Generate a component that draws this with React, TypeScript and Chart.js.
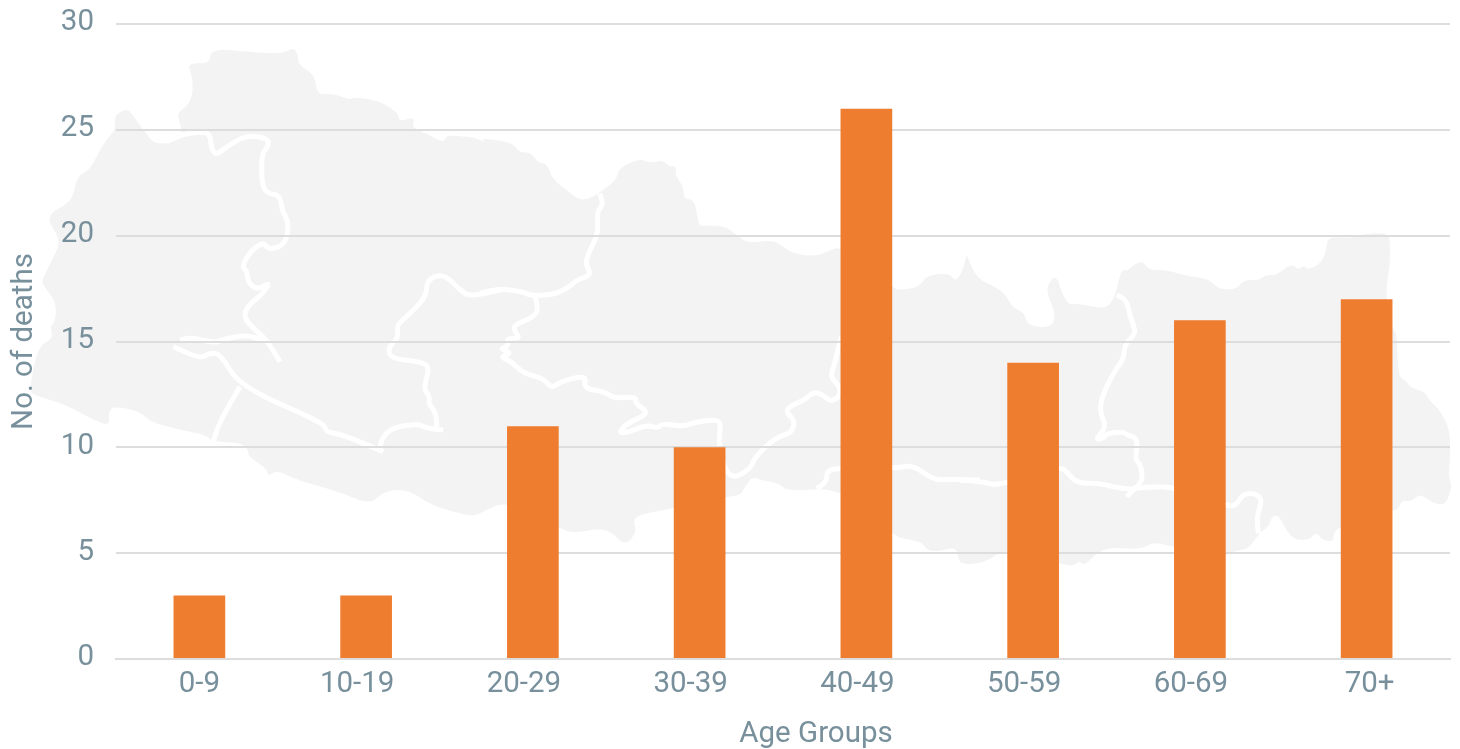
import React, { useEffect, useRef } from "react";
import { Chart, registerables } from "chart.js";

Chart.register(...registerables);

const categories = ["0-9", "10-19", "20-29", "30-39", "40-49", "50-59", "60-69", "70+"];
const deaths = [3, 3, 11, 10, 26, 14, 16, 17];
const yTicks = [0, 5, 10, 15, 20, 25, 30];
const xAxisTitle = "Age Groups";
const yAxisTitle = "No. of deaths";
const xLabelShift = [0, -9, -9, -9, -9, -9, -9, 3];

type P = [number, number];
// Decorative backdrop outline, traced in 3x crop units.
const at = (ox: number, oy: number, pts: number[]): P[] => {
  const out: P[] = [];
  for (let i = 0; i < pts.length; i += 2) out.push([ox + pts[i] / 3, oy + pts[i + 1] / 3]);
  return out;
};

const outline: P[] = [
  ...at(0, 0, [340,350, 378,325, 395,340, 415,370, 440,402, 460,428, 490,432, 530,420, 543,405, 545,385, 530,340, 555,325, 578,290, 578,230, 560,190, 630,190, 630,160, 655,148, 700,152, 750,155, 800,160, 850,160, 880,142, 895,165, 895,195, 945,225, 950,285, 1000,280, 1050,300, 1065,290, 1145,305, 1195,340, 1197,365, 1245,350, 1235,385, 1280,400, 1330,430, 1340,405, 1380,410, 1420,410, 1460,430]),
  ...at(480, 130, [0,25, 50,30, 100,40, 120,70, 150,65, 175,100, 200,100, 220,150, 260,180, 290,205, 320,210, 355,190, 410,150, 415,115, 480,85, 510,100, 550,90, 565,110, 590,108, 585,135, 610,170, 612,208, 645,208, 655,290, 680,285, 740,290, 780,325, 810,340, 885,328, 930,370, 1010,380, 1050,360, 1085,350, 1237,475, 1270,480, 1320,470, 1340,435, 1410,430, 1425,455, 1445,430, 1460,375]),
  ...at(960, 200, [20,165, 50,235, 115,265, 145,295, 155,320, 195,340, 200,375, 270,385, 290,345, 255,270, 280,230, 295,240, 300,265, 325,315, 350,310, 400,320, 440,325, 465,290, 485,205, 500,215, 525,190, 550,185, 565,210, 620,210, 685,230, 745,235, 775,268, 830,268, 850,240, 900,240, 915,225, 950,225, 995,190, 1015,210, 1035,195, 1040,210, 1085,190, 1100,145, 1100,125, 1115,110, 1180,115, 1220,100, 1285,100, 1290,125, 1290,200, 1275,280, 1300,395, 1310,395, 1315,530, 1335,540, 1355,565, 1395,575, 1410,605, 1425,615, 1445,640, 1470,690, 1470,780, 1465,830, 1475,850, 1470,880, 1455,915, 1420,910, 1380,880, 1355,905, 1325,900, 1315,930, 1295,930, 1275,940, 1140,980, 1120,1000, 1120,1025, 1085,1020, 1070,995, 1050,1020, 1000,1020, 970,975, 955,945, 935,950, 930,975, 905,995, 890,1010, 870,1040, 850,1050, 830,1050, 800,1070, 640,1040, 580,1025, 540,1050, 430,1040, 370,1100, 360,1080, 340,1100, 300,1090, 130,1050, 80,1085, 20,1095, 0,1085]),
  ...at(480, 130, [1450,1305, 1435,1290, 1430,1250, 1370,1265, 1340,1260, 1325,1235, 1260,1225, 1237,1210, 1083,1072, 920,1085, 900,1060, 840,1050, 815,1040, 790,1080, 780,1095, 745,1100, 580,1135, 470,1155, 460,1180, 470,1200, 450,1235, 425,1240, 400,1210, 360,1195, 280,1210, 240,1195, 80,1110, 0,1150]),
  ...at(0, 0, [1410,1550, 1290,1515, 1230,1470, 1155,1470, 1110,1515, 1020,1476, 890,1440, 830,1410, 805,1430, 800,1405, 745,1370, 745,1350, 725,1328, 635,1325, 620,1305, 540,1290, 450,1265, 420,1235, 345,1218, 325,1235, 330,1280, 260,1250, 200,1215, 100,1185, 90,1170, 100,1100, 120,1035, 160,1015, 150,975, 165,970, 170,905, 122,848, 135,825, 150,790, 185,725, 145,665, 155,635, 190,620, 220,590, 230,530, 270,510, 310,430, 350,385]),
];

const borders: P[][] = [
  at(0, 0, [500,425, 540,405, 600,395, 630,400, 635,450, 650,465, 680,440, 740,405, 805,415, 805,440, 785,460, 785,550, 800,580, 840,585, 845,630, 868,670, 855,735, 805,750, 790,725, 750,755, 725,800, 740,810, 745,850, 775,870, 810,845, 790,880, 745,915, 730,950, 760,985, 800,1020, 840,1085]),
  at(0, 0, [540,1020, 570,1010, 640,1030, 680,1015, 740,1005, 790,1020]),
  at(0, 0, [520,1040, 600,1078, 625,1060, 660,1060, 720,1160, 975,1270, 975,1295, 1030,1305, 1150,1355]),
  at(0, 0, [720,1160, 660,1260, 640,1325]),
  at(0, 0, [1140,1340, 1150,1290, 1250,1270, 1280,1285, 1330,1290]),
  at(0, 0, [1310,1280, 1310,1240, 1285,1210, 1290,1190, 1270,1165, 1290,1100, 1260,1085, 1170,1075, 1165,1040, 1195,1015, 1190,975, 1220,950, 1280,890, 1280,840, 1330,820, 1380,870, 1410,890, 1500,870]),
  at(480, 130, [0,490, 50,475, 130,485, 150,497, 220,495, 270,470, 290,450, 335,435, 315,400, 330,360, 355,310, 350,245, 370,225, 360,190]),
  at(480, 130, [165,500, 175,530, 165,560, 100,585, 105,605, 120,625, 80,625, 85,650, 60,655, 95,670, 60,680, 95,695, 130,730, 190,745, 215,775, 240,755, 320,735, 310,775, 375,785, 400,805, 470,800, 465,820, 510,850, 440,880, 415,910, 450,905, 500,885, 535,895, 545,880, 610,890, 650,875, 715,868, 722,890, 715,945, 745,1050, 810,1020, 825,980, 890,920, 935,910, 945,870, 920,850, 925,830, 975,810, 1000,785, 1030,795, 1050,815, 1080,800, 1080,770, 1050,740, 1065,700, 1075,650, 1085,620]),
  at(480, 130, [1010,1075, 1040,1060, 1040,1020, 1080,1015, 1240,1015, 1300,1005, 1360,1050, 1410,1048, 1500,1050]),
  at(960, 200, [0,840, 70,845, 100,855, 140,848, 300,800, 320,815, 350,850, 420,850, 500,870, 560,860, 640,860, 800,915, 825,920, 855,875, 910,890, 890,950, 895,1000]),
  at(960, 200, [500,890, 520,870, 550,840, 540,790, 525,780, 535,715, 500,705, 490,695, 440,700, 430,715, 405,720, 440,680, 420,640, 425,590, 465,510, 490,480, 495,430, 530,400, 510,350, 500,300, 470,285]),
];

const INK = "#78909c";
const FONT = { family: "Roboto", size: 29.5, weight: "400" as const };

const trace = (ctx: CanvasRenderingContext2D, pts: P[], closed: boolean) => {
  ctx.beginPath();
  if (closed) {
    const [x0, y0] = pts[0];
    const [xl, yl] = pts[pts.length - 1];
    ctx.moveTo((x0 + xl) / 2, (y0 + yl) / 2);
  } else {
    ctx.moveTo(pts[0][0], pts[0][1]);
  }
  for (let i = closed ? 0 : 1; i < pts.length - (closed ? 0 : 1); i++) {
    const [x, y] = pts[i];
    const [nx, ny] = pts[(i + 1) % pts.length];
    ctx.quadraticCurveTo(x, y, (x + nx) / 2, (y + ny) / 2);
  }
  if (closed) ctx.closePath();
  else ctx.lineTo(pts[pts.length - 1][0], pts[pts.length - 1][1]);
};

const backdrop = {
  id: "backdrop",
  beforeDraw(chart: Chart) {
    const items = (chart.scales.x as any).getLabelItems(chart.chartArea);
    items.forEach((item: any, i: number) => {
      if (!item.shifted) {
        item.options.translation[0] += xLabelShift[i] ?? 0;
        item.shifted = true;
      }
    });
    const ctx = chart.ctx;
    ctx.save();
    ctx.fillStyle = "#f3f3f3";
    trace(ctx, outline, true);
    ctx.fill();
    ctx.strokeStyle = "#ffffff";
    ctx.lineWidth = 5;
    ctx.lineJoin = "round";
    ctx.lineCap = "butt";
    for (const line of borders) {
      trace(ctx, line, false);
      ctx.stroke();
    }
    ctx.restore();
  },
  afterDraw(chart: Chart) {
    const ctx = chart.ctx;
    const area = chart.chartArea;
    ctx.save();
    ctx.fillStyle = INK;
    ctx.font = `${FONT.weight} ${FONT.size}px ${FONT.family}`;
    ctx.textAlign = "center";
    ctx.textBaseline = "middle";
    ctx.fillText(xAxisTitle, (area.left + area.right) / 2 + 33, area.bottom + 75.5);
    ctx.restore();
  },
};

export default function App() {
  const ref = useRef<HTMLCanvasElement>(null);
  useEffect(() => {
    const chart = new Chart(ref.current!, {
      type: "bar",
      data: {
        labels: categories,
        datasets: [
          {
            data: deaths,
            backgroundColor: "#ef7d30",
            barPercentage: 0.31,
            categoryPercentage: 1,
          },
        ],
      },
      plugins: [backdrop],
      options: {
        animation: false,
        responsive: false,
        layout: { padding: { top: 24, right: 10, left: 0, bottom: 0 } },
        plugins: { legend: { display: false }, tooltip: { enabled: false } },
        scales: {
          x: {
            grid: { display: false, drawTicks: false },
            border: { color: "#dddddd", width: 2 },
            ticks: { color: INK, font: FONT, padding: 8, maxRotation: 0 },
            afterFit(s: any) {
              s.height = 90;
            },
          },
          y: {
            min: 0,
            max: 30,
            afterBuildTicks(s: any) {
              s.ticks = yTicks.map((value) => ({ value }));
            },
            grid: { color: "#dddddd", lineWidth: 2, drawTicks: false },
            border: { display: false },
            ticks: { color: INK, font: FONT, padding: 22, labelOffset: -1 },
            title: {
              display: true,
              text: yAxisTitle,
              color: INK,
              font: FONT,
              padding: { top: 7, bottom: 0 },
            },
            afterFit(s: any) {
              s.width = 116;
              s.paddingTop = 0;
              s.paddingBottom = 0;
            },
          },
        },
      },
    });
    return () => chart.destroy();
  }, []);
  return (
    <canvas
      ref={ref}
      width={1460}
      height={749}
      style={{ position: "absolute", left: 0, top: 0, display: "block" }}
    />
  );
}
